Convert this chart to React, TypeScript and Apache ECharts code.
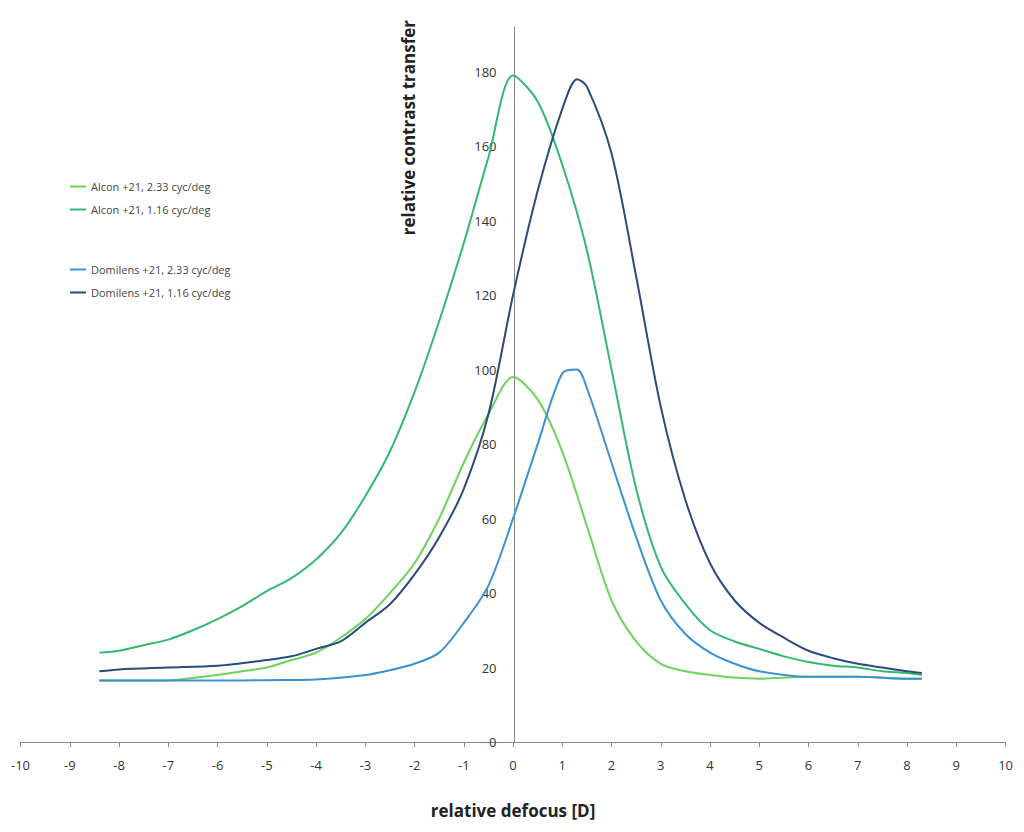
import { useEffect, useRef } from 'react'
import * as echarts from 'echarts'

const alcon233: [number, number][] = [
  [-8.4, 16.5], [-7.5, 16.5], [-7, 16.5], [-6.5, 17.2], [-6, 18], [-5.5, 19], [-5, 20], [-4.5, 22], [-4, 24], [-3.5, 28],
  [-3, 33], [-2.5, 40], [-2, 48], [-1.5, 60], [-1, 75], [-0.5, 88], [0, 98], [0.5, 92], [1, 78], [1.5, 58],
  [2, 38], [2.5, 27], [3, 21], [3.5, 19], [4, 18], [4.5, 17.3], [5, 17], [6, 17.5], [7, 17.5], [8, 17], [8.3, 17],
]
const alcon116: [number, number][] = [
  [-8.4, 24], [-8, 24.5], [-7.5, 26], [-7, 27.5], [-6.5, 30], [-6, 33], [-5.5, 36.5], [-5, 40.5], [-4.5, 44], [-4, 49],
  [-3.5, 56], [-3, 66], [-2.5, 78], [-2, 94], [-1.5, 113], [-1, 134], [-0.5, 157], [0, 179], [0.5, 172], [1, 155],
  [1.5, 132], [2, 100], [2.5, 68], [3, 47], [3.5, 37], [4, 30], [4.5, 27], [5, 25], [5.5, 23], [6, 21.5],
  [6.5, 20.5], [7, 20], [7.5, 19], [8, 18.5], [8.3, 18],
]
const domi233: [number, number][] = [
  [-8.4, 16.5], [-7, 16.5], [-6, 16.5], [-5, 16.6], [-4, 16.8], [-3, 18], [-2.5, 19.3], [-2, 21], [-1.5, 24], [-1, 32],
  [-0.5, 42], [0, 60], [0.5, 80], [1, 99], [1.3, 100], [1.5, 95], [2, 75], [2.5, 55], [3, 38], [3.5, 29],
  [4, 24], [4.5, 21], [5, 19], [6, 17.5], [7, 17.5], [8, 17], [8.3, 17],
]
const domi116: [number, number][] = [
  [-8.4, 19], [-8, 19.5], [-7, 20], [-6, 20.5], [-5, 22], [-4.5, 23], [-4, 25], [-3.5, 27], [-3, 32], [-2.5, 37],
  [-2, 45], [-1.5, 55], [-1, 68], [-0.5, 88], [0, 120], [0.5, 148], [1, 170], [1.3, 178], [1.5, 176], [2, 158],
  [2.5, 125], [3, 90], [3.5, 65], [4, 48], [4.5, 38], [5, 32], [5.5, 28], [6, 24.5], [6.5, 22.5], [7, 21],
  [7.5, 20], [8, 19], [8.3, 18.5],
]

const names = [
  'Alcon +21, 2.33 cyc/deg',
  'Alcon +21, 1.16 cyc/deg',
  'Domilens +21, 2.33 cyc/deg',
  'Domilens +21, 1.16 cyc/deg',
]
const colors = ['#6cd35c', '#33b86e', '#3a92d4', '#2b4a7e']

const font = '"Liberation Sans Narrow", "Open Sans", sans-serif'

export default function App() {
  const chartRef = useRef<HTMLDivElement>(null)

  useEffect(() => {
    if (!chartRef.current) return
    const chart = echarts.init(chartRef.current, null, { renderer: 'svg' })
    const data = [alcon233, alcon116, domi233, domi116]
    const legendBase = {
      orient: 'vertical',
      left: 57,
      itemWidth: 16,
      itemHeight: 2,
      itemGap: 12,
      icon: 'rect',
      textStyle: { fontSize: 11, color: '#444', fontFamily: font },
    }
    chart.setOption({
      animation: false,
      grid: { left: 10, right: 10, top: 19, bottom: 73 },
      legend: [
        { ...legendBase, top: 168, data: [names[0], names[1]] },
        { ...legendBase, top: 251, data: [names[2], names[3]] },
      ],
      xAxis: {
        type: 'value', min: -10, max: 10, interval: 1,
        axisLine: { onZero: true, lineStyle: { color: '#888' } },
        axisTick: { show: true, inside: false, length: 5, lineStyle: { color: '#888' } },
        splitLine: { show: false },
        axisLabel: { color: '#333', fontSize: 13, fontFamily: font, margin: 16 },
        name: 'relative defocus [D]', nameLocation: 'middle', nameGap: 60,
        nameTextStyle: { fontSize: 17, fontWeight: 'bold', color: '#222', fontFamily: font },
      },
      yAxis: {
        type: 'value', min: 0, max: 192, interval: 20,
        offset: -494,
        axisLine: { show: true, onZero: false, lineStyle: { color: '#888' } },
        axisTick: { show: false },
        splitLine: { show: false },
        axisLabel: { color: '#333', fontSize: 13, fontFamily: font, margin: 18, showMaxLabel: false },
      },
      graphic: [{
        type: 'text', left: 392, top: 12, rotation: Math.PI / 2,
        style: { text: 'relative contrast transfer', fontSize: 17, fontWeight: 'bold', fill: '#222', fontFamily: font },
      }],
      series: data.map((d, i) => ({
        name: names[i], type: 'line', data: d, smooth: 0.3, showSymbol: false,
        lineStyle: { width: 2, color: colors[i] }, itemStyle: { color: colors[i] },
      })),
    })
    return () => chart.dispose()
  }, [])

  return <div ref={chartRef} style={{ width: 1008, height: 816 }} />
}
